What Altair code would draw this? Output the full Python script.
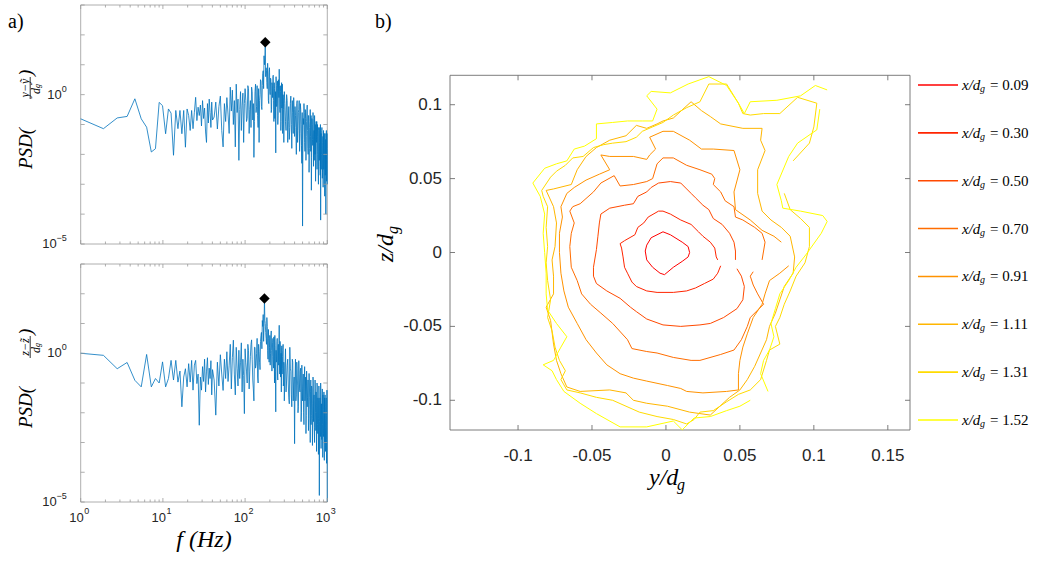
import altair as alt
import pandas as pd

SANS = "Liberation Sans"
SERIF = "Liberation Serif"
FRAME_L = "#9a9a9a"
FRAME_R = "#6e6e6e"
LAB = "#262626"
BLUE = "#0072BD"

# ---------------- panel a) : PSD spectra ----------------
freq_low = [round(1 + 0.89 * i, 2) for i in range(45)]
freq_mid = list(range(42, 101, 2))
freq_hi1 = list(range(104, 301, 4))
freq_hi1a = list(range(102, 299, 4))
freq_hi2 = list(range(310, 1001, 10))
freq_hi2a = list(range(305, 1000, 10))
freq = freq_low + freq_mid + freq_hi1 + freq_hi1a + freq_hi2 + freq_hi2a

# log10 of PSD((y - y~)/d_g)
psdy_low = [-0.81, -1.14, -0.78, -0.73, -0.14, -0.81, -1.09, -1.92, -1.81, -0.26,
            -0.37, -1.31, -0.48, -0.62, -2.03, -0.53, -1.14, -0.53, -1.31, -0.53,
            -1.76, -0.48, -0.70, -1.20, -0.53, -1.14, -0.59, -0.09, -0.87, -0.42,
            -0.70, -0.35, -1.05, -0.20, -0.80, -0.45, -1.25, -1.60, -0.30, -0.95,
            -0.15, -0.60, -1.10, -0.25, -0.85]
psdy_mid = [-0.75, -0.25, -1.15, -0.40, -0.05, -1.20, -1.75, -0.30, -0.90, -0.10,
            -0.65, -1.30, 0.25, -0.55, 0.15, -1.00, -0.20, -1.75, 0.35, -0.60,
            -0.15, -2.20, -0.50, 0.10, -1.20, -0.35, 0.05, -1.60, -0.30, 0.20]
psdy_hi1 = [-0.90, 0.30, -1.30, -0.20, 0.25, -0.85, -2.10, 0.10, -0.60, 0.30,
            -1.10, -1.60, 0.00, 0.45, -0.50, 0.70, 0.20, 1.00, 1.75, 0.90,
            0.40, 1.05, -0.20, 0.75, 0.10, 0.55, -0.60, 0.40, -0.10, 0.65,
            -0.90, 0.20, -0.40, -1.95, 0.30, -0.30, 0.45, -0.70, 0.10, 0.85,
            -0.50, 0.30, -1.20, 0.05, -0.45, 0.35, -1.00, -0.10, -1.60, 0.10]
psdy_hi1a = [-0.20, -0.80, 0.20, -0.50, -1.10, 0.10, -0.30, -0.90, 0.35, -0.40,
             -0.70, 0.20, -0.20, 0.50, -0.40, 0.30, 0.80, 1.30, 1.20, 0.60,
             0.80, 0.20, 0.60, -0.30, 0.90, 0.00, 0.50, -0.50, 0.30, 0.60,
             -0.20, 0.40, -0.80, 0.10, 0.60, -0.40, 0.20, -1.00, 0.50, -0.10,
             0.30, -0.60, 0.10, -0.90, 0.40, -0.30, -1.30, 0.00, -0.50, -0.20]
psdy_hi2 = [-0.90, 0.00, -1.60, -0.40, -1.10, -0.05, -1.80, -0.60, -0.10, -1.40,
            -0.70, -2.00, -0.20, -1.20, -0.50, -1.90, -0.30, -1.00, -2.30, -4.40,
            -0.80, -0.30, -1.60, -0.50, -2.20, -0.90, -0.35, -1.80, -0.70, -2.60,
            -1.10, -0.50, -1.90, -3.20, -0.80, -1.50, -0.60, -2.40, -1.20, -0.70,
            -2.00, -2.90, -0.90, -1.60, -2.50, -1.00, -1.90, -3.00, -1.20, -2.20,
            -1.10, -2.70, -4.20, -1.30, -2.00, -1.10, -2.80, -1.60, -3.10, -1.20,
            -2.30, -1.50, -3.40, -1.30, -2.60, -4.00, -1.40, -2.90, -1.30, -3.00]
psdy_hi2a = [-0.30, -1.20, -0.20, -0.90, -1.50, -0.30, -1.00, -0.20, -1.30, -0.50,
             -0.40, -1.10, -0.30, -1.60, -0.60, -0.20, -1.30, -0.50, -1.70, -0.60,
             -1.50, -1.00, -0.60, -1.90, -0.80, -1.40, -0.50, -1.20, -2.00, -0.70,
             -1.80, -0.90, -1.40, -0.70, -2.10, -1.00, -1.70, -0.80, -1.50, -2.20,
             -1.30, -1.00, -2.20, -1.50, -0.90, -2.00, -1.40, -2.40, -1.10, -1.80,
             -1.60, -2.40, -1.00, -1.90, -2.50, -1.20, -1.70, -2.60, -1.40, -2.10,
             -2.50, -1.30, -2.00, -1.60, -2.70, -1.50, -2.20, -1.20, -2.60, -1.80]
psdy = psdy_low + psdy_mid + psdy_hi1 + psdy_hi1a + psdy_hi2 + psdy_hi2a
peak_y = (176, 1.75)

# log10 of PSD((z - z~)/d_g)
psdz_low = [0.00, -0.07, -0.52, -0.31, -0.91, -1.13, -0.04, -1.13, -0.85, -1.00,
            -0.29, -1.13, -0.85, -0.24, -0.90, -0.24, -0.97, -0.60, -1.80, -0.80,
            -0.52, -1.13, -0.35, -0.97, -0.24, -1.24, -0.40, -0.24, -1.02, -0.70,
            -2.42, -0.80, -1.24, -0.45, -0.95, -0.20, -1.30, -0.60, -0.15, -1.05,
            -0.50, -0.85, -0.25, -1.40, -0.55]
psdz_mid = [-0.90, -2.08, -0.30, -1.10, -0.05, -0.70, -1.25, -0.20, -0.85, 0.05,
            -0.95, -0.40, 0.30, -1.20, -0.15, 0.44, -0.70, -1.40, 0.20, -0.50,
            -1.10, 0.10, -0.85, -0.30, 0.35, -1.30, -0.20, -0.75, -2.03, 0.15]
psdz_hi1 = [-0.60, 0.30, -1.20, -0.10, 0.45, -0.90, -1.60, 0.20, -0.40, 0.50,
            -1.00, 0.05, -0.55, 0.60, 0.15, 0.90, 0.40, 1.84, 1.00, 0.50,
            1.20, 0.10, 0.80, -0.30, 0.60, 0.00, 0.75, -0.60, 0.35, -0.20,
            0.55, -1.00, 0.25, -1.97, -0.30, 0.40, -0.80, 0.20, -0.40, 0.94,
            -0.70, 0.30, -0.20, -1.30, 0.25, -0.50, 0.10, -1.10, -0.30, -1.60]
psdz_hi1a = [-0.30, -1.00, 0.10, -0.60, 0.30, -0.20, -1.20, 0.20, -0.50, 0.00,
             -0.80, 0.30, -0.30, 0.40, 0.70, 1.10, 1.30, 0.90, 1.10, 0.70,
             0.30, 0.90, -0.20, 0.50, 0.20, -0.40, 0.60, 0.10, -0.10, 0.50,
             -0.50, 0.20, 0.60, -0.60, 0.10, -0.20, 0.50, -0.90, 0.30, 0.00,
             -0.30, 0.40, -0.80, 0.00, 0.20, -0.70, -0.10, 0.30, -1.00, -0.40]
psdz_hi2 = [0.15, -0.90, -0.20, -1.50, 0.20, -0.60, -1.80, -0.30, -1.10, -3.04,
            -0.20, -1.40, -0.50, -2.00, -0.25, -1.20, -0.60, -2.30, -0.40, -1.60,
            -0.70, -2.40, -0.45, -1.30, -2.70, -0.60, -1.80, -0.90, -2.60, -0.68,
            -1.50, -3.00, -0.90, -2.10, -1.20, -3.10, -0.80, -2.30, -1.40, -3.00,
            -0.90, -2.00, -1.30, -3.30, -1.00, -2.40, -1.50, -3.40, -1.10, -4.78,
            -1.60, -2.50, -1.00, -3.20, -1.70, -2.60, -1.20, -3.50, -1.80, -2.80,
            -1.30, -3.60, -2.00, -1.40, -3.30, -2.20, -1.50, -3.70, -1.24, -5.00]
psdz_hi2a = [-0.60, -1.30, -0.40, -1.00, -1.70, -0.50, -1.40, -0.20, -1.60, -0.80,
             -0.90, -1.60, -0.30, -1.10, -1.80, -0.70, -1.30, -0.50, -2.00, -0.90,
             -1.20, -2.00, -0.90, -1.60, -0.80, -2.10, -1.10, -1.50, -0.90, -2.20,
             -1.00, -1.90, -1.30, -2.40, -1.10, -1.70, -2.20, -1.00, -1.80, -2.50,
             -1.60, -1.20, -2.60, -1.50, -2.00, -1.10, -2.70, -1.60, -2.20, -1.40,
             -2.30, -1.50, -2.80, -1.30, -2.10, -2.90, -1.60, -2.40, -1.40, -2.70,
             -1.90, -2.60, -1.50, -3.00, -1.80, -2.50, -1.60, -2.90, -2.10, -1.70]
psdz = psdz_low + psdz_mid + psdz_hi1 + psdz_hi1a + psdz_hi2 + psdz_hi2a
peak_z = (172, 1.84)

x_major = [1, 10, 100, 1000]
x_major_exp = ["0", "1", "2", "3"]
x_minor = [m * d for d in (1, 10, 100) for m in range(2, 10)]
y_decades = [10.0 ** e for e in range(-5, 4)]
y_lab_vals = [1.0, 1e-5]
y_lab_exp = ["0", "\u22125"]

# ---------------- panel b) : contours (y/d_g, z/d_g); None = gap ----------------
levels = ["0.09", "0.30", "0.50", "0.70", "0.91", "1.11", "1.31", "1.52"]
colors = ["#ff0000", "#ff2400", "#ff4900", "#ff6d00", "#ff9200", "#ffb600", "#ffdb00", "#ffff00"]

c009 = [(-0.014, 0.001), (-0.013, 0.005), (-0.010, 0.010), (-0.002, 0.014), (0.003, 0.012), (0.011, 0.007),
        (0.015, 0.004), (0.016, 0.000), (0.015, -0.003), (0.011, -0.006), (0.005, -0.010), (-0.001, -0.015),
        (-0.004, -0.014), (-0.009, -0.010), (-0.013, -0.005), (-0.014, 0.001)]
c030 = [(-0.031, 0.006), (-0.028, 0.008), (-0.021, 0.012), (-0.019, 0.017), (-0.015, 0.020), (-0.012, 0.024),
        (-0.005, 0.028), (-0.002, 0.028), (0.003, 0.026), (0.010, 0.022), (0.017, 0.019), (0.022, 0.014),
        (0.025, 0.011), (0.030, 0.007), (0.033, 0.003), (0.034, -0.003), (0.035, -0.005), None,
        (0.037, -0.009), (0.035, -0.014), (0.032, -0.018), (0.026, -0.021), (0.020, -0.024), (0.014, -0.026),
        (0.005, -0.027), (-0.006, -0.027), (-0.013, -0.026), (-0.020, -0.023), (-0.023, -0.020), (-0.026, -0.014),
        (-0.028, -0.010), (-0.029, -0.003), (-0.030, 0.003), (-0.031, 0.006)]
c050 = [(-0.044, 0.026), (-0.038, 0.030), (-0.028, 0.032), (-0.022, 0.033), (-0.019, 0.038), (-0.013, 0.041),
        (-0.010, 0.044), (-0.005, 0.047), (0.003, 0.048), (0.010, 0.047), (0.014, 0.043), (0.017, 0.040),
        (0.020, 0.037), (0.025, 0.032), (0.029, 0.029), (0.032, 0.023), (0.038, 0.019), (0.043, 0.013),
        (0.046, 0.007), (0.047, 0.001), (0.047, -0.005), None,
        (0.048, -0.011), (0.051, -0.016), (0.053, -0.023), (0.052, -0.032), (0.048, -0.038), (0.039, -0.044),
        (0.030, -0.048), (0.023, -0.049), (0.010, -0.050), (-0.002, -0.049), (-0.013, -0.045), (-0.020, -0.040),
        (-0.024, -0.037), (-0.031, -0.031), (-0.040, -0.026), (-0.047, -0.021), (-0.049, -0.016), (-0.049, -0.010),
        (-0.047, 0.002), (-0.046, 0.011), (-0.045, 0.020), (-0.044, 0.026)]
c070 = [(-0.063, 0.031), (-0.058, 0.033), (-0.049, 0.041), (-0.044, 0.047), (-0.035, 0.052), (-0.031, 0.045),
        (-0.022, 0.046), (-0.013, 0.048), (-0.009, 0.050), (-0.006, 0.060), (-0.002, 0.064), (0.005, 0.064),
        (0.014, 0.059), (0.023, 0.056), (0.031, 0.053), (0.033, 0.050), (0.032, 0.046), (0.037, 0.041),
        (0.040, 0.035), (0.046, 0.031), (0.047, 0.024), (0.052, 0.022), (0.060, 0.017), (0.065, 0.013),
        (0.067, 0.007), (0.066, 0.001), (0.065, -0.005), None,
        (0.059, -0.013), (0.057, -0.016), (0.059, -0.022), (0.062, -0.028), (0.066, -0.035), (0.057, -0.044),
        (0.055, -0.050), (0.051, -0.059), (0.046, -0.066), (0.037, -0.069), (0.023, -0.073), (0.017, -0.073),
        (0.005, -0.071), (-0.006, -0.068), (-0.013, -0.067), (-0.023, -0.065), (-0.026, -0.059), (-0.036, -0.048),
        (-0.044, -0.041), (-0.051, -0.035), (-0.057, -0.028), (-0.060, -0.019), (-0.064, -0.010), (-0.065, 0.004),
        (-0.064, 0.013), (-0.062, 0.020), (-0.065, 0.028), (-0.063, 0.031)]
c091 = [(-0.038, 0.056), (-0.044, 0.066), (-0.038, 0.065), (-0.022, 0.065), (-0.013, 0.063), (-0.011, 0.066),
        (-0.007, 0.070), (-0.011, 0.078), (-0.002, 0.082), (0.005, 0.082), (0.016, 0.076), (0.024, 0.070),
        (0.032, 0.070), (0.046, 0.069), (0.050, 0.056), (0.046, 0.041), (0.047, 0.029), (0.057, 0.022),
        (0.065, 0.015), (0.073, 0.011), (0.078, 0.007), None,
        (0.083, -0.009), (0.077, -0.014), (0.070, -0.019), (0.067, -0.028), (0.065, -0.035), (0.059, -0.044),
        (0.055, -0.055), (0.052, -0.064), (0.050, -0.073), (0.049, -0.082), (0.049, -0.093), (0.041, -0.094),
        (0.025, -0.095), (0.014, -0.094), (0.010, -0.092), (0.001, -0.090), (-0.013, -0.087), (-0.022, -0.085),
        (-0.031, -0.082), (-0.040, -0.076), (-0.047, -0.068), (-0.054, -0.059), (-0.060, -0.048), (-0.066, -0.037),
        (-0.069, -0.026), (-0.071, -0.014), (-0.072, 0.000), (-0.072, 0.013), (-0.070, 0.024), (-0.071, 0.031),
        (-0.067, 0.040), (-0.062, 0.044), (-0.054, 0.049), (-0.045, 0.053), (-0.038, 0.056)]
c111 = [(-0.064, 0.046), (-0.060, 0.056), (-0.054, 0.065), (-0.047, 0.071), (-0.038, 0.076), (-0.027, 0.079),
        (-0.020, 0.086), (-0.013, 0.084), (-0.006, 0.087), (-0.002, 0.089), (0.005, 0.091), (0.017, 0.102),
        (0.024, 0.096), (0.030, 0.092), (0.037, 0.087), (0.052, 0.084), (0.065, 0.084), (0.064, 0.076),
        (0.067, 0.069), (0.062, 0.056), (0.062, 0.040), (0.065, 0.028), (0.071, 0.022), (0.078, 0.017),
        (0.084, 0.011), (0.087, -0.003), (0.086, -0.014), (0.080, -0.023), (0.077, -0.032), (0.074, -0.041),
        (0.070, -0.050), (0.068, -0.059), (0.064, -0.068), (0.060, -0.077), (0.055, -0.086), (0.050, -0.093),
        (0.043, -0.098), (0.030, -0.110), (0.016, -0.108), (0.001, -0.104), (-0.013, -0.102), (-0.022, -0.100),
        (-0.027, -0.095), (-0.038, -0.093), (-0.058, -0.094), (-0.067, -0.091), (-0.071, -0.082), (-0.074, -0.073),
        (-0.076, -0.062), (-0.078, -0.046), (-0.081, -0.037), (-0.076, -0.028), (-0.076, -0.016), (-0.077, -0.005),
        (-0.075, 0.004), (-0.074, 0.020), (-0.076, 0.031), (-0.081, 0.042), (-0.076, 0.043), (-0.064, 0.046)]
c131 = [(-0.084, 0.042), (-0.078, 0.051), (-0.074, 0.055), (-0.068, 0.059), (-0.063, 0.064), (-0.056, 0.065),
        (-0.049, 0.071), (-0.042, 0.073), (-0.036, 0.074), (-0.027, 0.075), (-0.020, 0.078), (-0.016, 0.082),
        (-0.009, 0.085), (-0.002, 0.088), (0.005, 0.093), (0.014, 0.098), (0.023, 0.102), (0.029, 0.114),
        (0.041, 0.114), (0.049, 0.101), (0.052, 0.094), (0.057, 0.093), (0.066, 0.094), (0.077, 0.094),
        (0.089, 0.105), (0.102, 0.101), (0.100, 0.085), (0.097, 0.074), (0.086, 0.062), None,
        (0.080, 0.040), (0.084, 0.029), (0.091, 0.023), (0.097, 0.017), (0.097, 0.004), (0.094, -0.007),
        (0.088, -0.016), (0.084, -0.026), (0.080, -0.035), (0.077, -0.044), (0.074, -0.050), (0.077, -0.062),
        (0.070, -0.066), (0.068, -0.073), (0.064, -0.086), (0.057, -0.093), (0.049, -0.096), (0.041, -0.101),
        (0.032, -0.107), (0.023, -0.108), (0.019, -0.113), (0.014, -0.116), (0.005, -0.113), (-0.006, -0.111),
        (-0.018, -0.108), (-0.027, -0.104), (-0.036, -0.100), (-0.047, -0.098), (-0.058, -0.095), (-0.067, -0.093),
        (-0.071, -0.086), (-0.068, -0.080), (-0.072, -0.073), (-0.075, -0.064), (-0.077, -0.053), (-0.080, -0.044),
        (-0.078, -0.032), (-0.080, -0.019), (-0.081, -0.007), (-0.080, 0.004), (-0.081, 0.017), (-0.080, 0.031),
        (-0.083, 0.038), (-0.084, 0.042)]
c152 = [(-0.090, 0.047), (-0.082, 0.057), (-0.074, 0.060), (-0.067, 0.062), (-0.062, 0.070), (-0.055, 0.072),
        (-0.047, 0.077), (-0.047, 0.087), (-0.036, 0.088), (-0.026, 0.089), (-0.016, 0.089), (-0.009, 0.089),
        (-0.006, 0.097), (-0.013, 0.106), (-0.010, 0.109), (0.003, 0.108), (0.015, 0.114), (0.029, 0.119),
        (0.041, 0.113), (0.049, 0.101), (0.053, 0.094), (0.057, 0.102), (0.075, 0.103), (0.091, 0.106),
        (0.101, 0.113), (0.109, 0.110), None,
        (0.104, 0.097), (0.102, 0.083), (0.089, 0.074), (0.083, 0.065), (0.075, 0.046), (0.078, 0.035),
        (0.079, 0.030), (0.091, 0.028), (0.106, 0.025), (0.109, 0.021), (0.105, 0.013), (0.095, -0.001),
        (0.088, -0.010), (0.083, -0.019), (0.077, -0.028), (0.074, -0.038), (0.071, -0.048), (0.073, -0.057),
        (0.070, -0.066), (0.066, -0.073), (0.064, -0.082), (0.069, -0.094), None,
        (0.057, -0.100), (0.050, -0.104), (0.041, -0.107), (0.030, -0.111), (0.019, -0.112), (0.011, -0.120),
        (0.005, -0.114), (-0.013, -0.118), (-0.031, -0.118), (-0.047, -0.109), (-0.058, -0.102), (-0.069, -0.094),
        (-0.074, -0.086), (-0.077, -0.080), (-0.083, -0.076), (-0.076, -0.073), (-0.071, -0.064), (-0.067, -0.057),
        (-0.074, -0.048), (-0.080, -0.039), (-0.081, -0.028), (-0.081, -0.014), (-0.082, 0.000), (-0.083, 0.013),
        (-0.082, 0.026), (-0.085, 0.038), (-0.090, 0.047)]
contours = [c009, c030, c050, c070, c091, c111, c131, c152]

yd_ticks = [-0.1, -0.05, 0, 0.05, 0.1, 0.15]
yd_labels = ["-0.1", "-0.05", "0", "0.05", "0.1", "0.15"]
zd_ticks = [-0.1, -0.05, 0, 0.05, 0.1]
zd_labels = ["-0.1", "-0.05", "0", "0.05", "0.1"]

# ---------------- helpers ----------------


def one():
    return pd.DataFrame({"a": [0]})


def txt(text, x, y, size, font=SERIF, style="normal", align="left", baseline="alphabetic", angle=0, dx=0, dy=0,
        color="black"):
    return alt.Chart(one()).mark_text(text=text, fontSize=size, font=font, fontStyle=style, align=align,
                                      baseline=baseline, angle=angle, dx=dx, dy=dy, color=color).encode(
        x=alt.value(x), y=alt.value(y))


def frame(x0, x1, y0, y1, color, sw):
    return alt.Chart(one()).mark_rect(fillOpacity=0, stroke=color, strokeWidth=sw).encode(
        x=alt.value(x0), x2=alt.value(x1), y=alt.value(y0), y2=alt.value(y1))


def psd_panel(logp, peak, x0, x1, y0, y1, numer, show_x):
    xs = alt.Scale(type="log", domain=[1, 1000], range=[x0, x1], nice=False)
    ys = alt.Scale(type="log", domain=[1e-5, 1e3], range=[y1, y0], nice=False)

    def X(f):
        return alt.X(f, scale=xs, axis=None)

    def Y(f):
        return alt.Y(f, scale=ys, axis=None)

    df = pd.DataFrame({"f": freq, "p": [10.0 ** v for v in logp]}).sort_values("f")
    layers = [frame(x0, x1, y0, y1, FRAME_L, 0.8),
              alt.Chart(df).mark_line(color=BLUE, strokeWidth=0.8).encode(x=X("f:Q"), y=Y("p:Q"))]
    pk = pd.DataFrame({"f": [peak[0]], "p": [10.0 ** peak[1]]})
    layers.append(alt.Chart(pk).mark_point(shape="diamond", filled=True, color="black", size=110, opacity=1)
                  .encode(x=X("f:Q"), y=Y("p:Q")))
    for vals, L in ((x_major, 4), (x_minor, 2.5)):
        d = pd.DataFrame({"v": vals})
        layers.append(alt.Chart(d).mark_rule(color=FRAME_L, strokeWidth=0.8).encode(
            x=X("v:Q"), y=alt.value(y1), y2=alt.value(y1 - L)))
        layers.append(alt.Chart(d).mark_rule(color=FRAME_L, strokeWidth=0.8).encode(
            x=X("v:Q"), y=alt.value(y0), y2=alt.value(y0 + L)))
    dd = pd.DataFrame({"v": y_decades})
    layers.append(alt.Chart(dd).mark_rule(color=FRAME_L, strokeWidth=0.8).encode(
        y=Y("v:Q"), x=alt.value(x0), x2=alt.value(x0 + 4)))
    layers.append(alt.Chart(dd).mark_rule(color=FRAME_L, strokeWidth=0.8).encode(
        y=Y("v:Q"), x=alt.value(x1), x2=alt.value(x1 - 4)))
    # y tick labels 10^e
    for v, e in zip(y_lab_vals, y_lab_exp):
        d = pd.DataFrame({"v": [v], "e": [e]})
        w = 5.0 * len(e)
        layers.append(alt.Chart(d).mark_text(font=SANS, fontSize=9, align="right", baseline="middle",
                                             dy=-6, color=LAB).encode(y=Y("v:Q"), x=alt.value(x0 - 14), text="e:N"))
        layers.append(alt.Chart(d).mark_text(font=SANS, fontSize=13, align="right", baseline="middle",
                                             text="10", color=LAB).encode(y=Y("v:Q"), x=alt.value(x0 - 14 - w)))
    if show_x:
        d = pd.DataFrame({"v": x_major, "e": x_major_exp})
        layers.append(alt.Chart(d).mark_text(font=SANS, fontSize=13, align="right", text="10", dx=3,
                                             color=LAB).encode(x=X("v:Q"), y=alt.value(y1 + 16)))
        layers.append(alt.Chart(d).mark_text(font=SANS, fontSize=9, align="left", dx=3.5, color=LAB)
                      .encode(x=X("v:Q"), y=alt.value(y1 + 9), text="e:N"))
        layers.append(txt("f  (Hz)", (x0 + x1) / 2, y1 + 45, 24, style="italic", align="center"))
    # y axis title  PSD( numer / d_g )
    layers.append(txt("PSD(", x0 - 55, y0 + 164, 19, style="italic", baseline="middle", angle=270))
    layers.append(txt(numer, x0 - 56, y0 + 83, 12, style="italic", align="center", baseline="middle", angle=270))
    layers.append(alt.Chart(one()).mark_rule(color="black", strokeWidth=0.8).encode(
        x=alt.value(x0 - 50.5), y=alt.value(y0 + 72), y2=alt.value(y0 + 94)))
    layers.append(txt("d", x0 - 45, y0 + 89, 12, style="italic", baseline="middle", angle=270))
    layers.append(txt("g", x0 - 43, y0 + 83, 8, style="italic", baseline="middle", angle=270))
    layers.append(txt(")", x0 - 55, y0 + 71, 19, style="italic", baseline="middle", angle=270))
    return alt.layer(*layers)


top = psd_panel(psdy, peak_y, 80.7, 327.3, 5, 244, "y\u2212\u1ef9", False)
bottom = psd_panel(psdz, peak_z, 80.7, 327.3, 264, 502, "z\u2212z\u0303", True)

# ---------------- right panel ----------------
RX0, RX1, RY0, RY1 = 450, 910, 75.3, 430
xs = alt.Scale(domain=[-0.146, 0.165], range=[RX0, RX1], nice=False, zero=False)
ys = alt.Scale(domain=[-0.1201, 0.1199], range=[RY1, RY0], nice=False, zero=False)
rows = []
for lev, pts in zip(levels, contours):
    seg, i = 0, 0
    for p in pts:
        if p is None:
            seg += 1
            continue
        rows.append({"level": lev, "seg": f"{lev}-{seg}", "i": i, "y": p[0], "z": p[1]})
        i += 1
cdf = pd.DataFrame(rows)
cscale = alt.Scale(domain=levels, range=colors)

xt = pd.DataFrame({"v": yd_ticks, "t": yd_labels})
zt = pd.DataFrame({"v": zd_ticks, "t": zd_labels})
right = alt.layer(
    frame(RX0, RX1, RY0, RY1, FRAME_R, 0.9),
    alt.Chart(cdf).mark_line(strokeWidth=1.0).encode(
        x=alt.X("y:Q", scale=xs, axis=None), y=alt.Y("z:Q", scale=ys, axis=None),
        color=alt.Color("level:N", scale=cscale, legend=None), detail="seg:N", order="i:Q"),
    alt.Chart(xt).mark_rule(color=FRAME_R, strokeWidth=0.9).encode(
        x=alt.X("v:Q", scale=xs, axis=None), y=alt.value(RY1), y2=alt.value(RY1 - 5)),
    alt.Chart(xt).mark_rule(color=FRAME_R, strokeWidth=0.9).encode(
        x=alt.X("v:Q", scale=xs, axis=None), y=alt.value(RY0), y2=alt.value(RY0 + 5)),
    alt.Chart(zt).mark_rule(color=FRAME_R, strokeWidth=0.9).encode(
        y=alt.Y("v:Q", scale=ys, axis=None), x=alt.value(RX0), x2=alt.value(RX0 + 5)),
    alt.Chart(zt).mark_rule(color=FRAME_R, strokeWidth=0.9).encode(
        y=alt.Y("v:Q", scale=ys, axis=None), x=alt.value(RX1), x2=alt.value(RX1 - 5)),
    alt.Chart(xt).mark_text(font=SANS, fontSize=17, align="center", color=LAB).encode(
        x=alt.X("v:Q", scale=xs, axis=None), y=alt.value(RY1 + 26), text="t:N"),
    alt.Chart(zt).mark_text(font=SANS, fontSize=17, align="right", baseline="middle", color=LAB).encode(
        y=alt.Y("v:Q", scale=ys, axis=None), x=alt.value(RX0 - 8), text="t:N"),
)

leg = pd.DataFrame({"level": levels, "val": ["= " + l for l in levels]})
ly = alt.Y("level:N", scale=alt.Scale(type="point", domain=levels, range=[85, 420], padding=0), axis=None)
legend_r = alt.layer(
    alt.Chart(leg).mark_rule(strokeWidth=1.6).encode(
        y=ly, x=alt.value(918), x2=alt.value(958), color=alt.Color("level:N", scale=cscale, legend=None)),
    alt.Chart(leg).mark_text(text="x/d", font=SERIF, fontStyle="italic", fontSize=15, align="left",
                             baseline="middle").encode(y=ly, x=alt.value(962)),
    alt.Chart(leg).mark_text(text="g", font=SERIF, fontStyle="italic", fontSize=10, align="left",
                             baseline="middle", dy=4).encode(y=ly, x=alt.value(980)),
    alt.Chart(leg).mark_text(font=SERIF, fontSize=15, align="left", baseline="middle").encode(
        y=ly, x=alt.value(990), text="val:N"),
)

labels = alt.layer(
    txt("a)", 8, 28, 20),
    txt("b)", 375, 28, 20),
    txt("y/d", 649, 485, 24, style="italic"),
    txt("g", 677, 490, 16, style="italic"),
    txt("z/d", 393, 262, 24, style="italic", angle=270),
    txt("g", 393, 234, 16, style="italic", angle=270, dy=5),
)

chart = alt.layer(top, bottom, right, legend_r, labels).resolve_scale(
    x="independent", y="independent").properties(
    width=1038, height=561, padding=0, autosize=alt.AutoSizeParams(type="none"),
    background="white").configure_view(stroke=None)

chart.save("out.html", embed_options={"renderer": "svg", "actions": False})
